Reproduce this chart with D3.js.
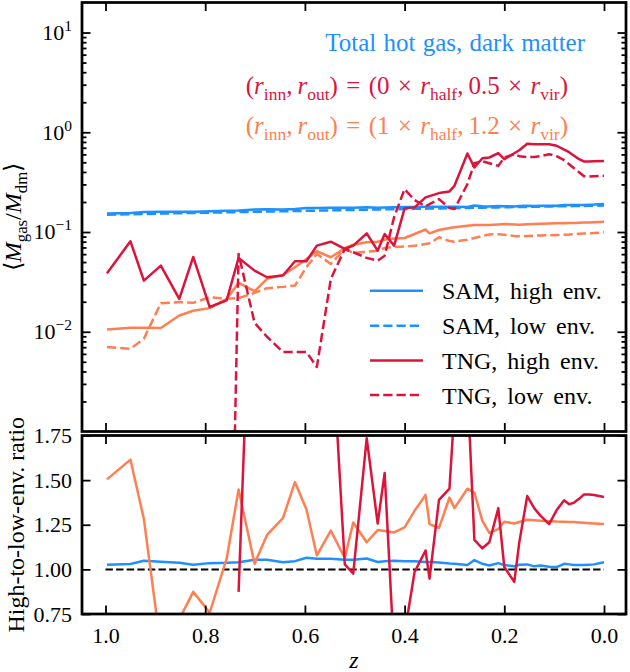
<!DOCTYPE html>
<html><head><meta charset="utf-8">
<script src="https://cdn.jsdelivr.net/npm/d3@7"></script>
<style>
html,body{margin:0;padding:0;background:#fff;}
</style></head>
<body><svg id="c" width="630" height="672"></svg>
<script>
// redshift of each snapshot
const zSnap = [0.997,0.950,0.923,0.889,0.852,0.824,0.791,0.757,0.733,0.701,
  0.676,0.644,0.620,0.597,0.576,0.548,0.520,0.503,0.476,0.454,
  0.440,0.421,0.400,0.380,0.358,0.350,0.331,0.310,0.300,0.274,
  0.260,0.244,0.230,0.212,0.200,0.180,0.170,0.154,0.140,0.127,
  0.110,0.095,0.080,0.070,0.060,0.050,0.040,0.030,0.020,0.000];

const samHigh = [0.1529,0.1553,0.1590,0.1595,0.1599,0.1592,0.1618,0.1633,0.1646,0.1681,
  0.1690,0.1680,0.1698,0.1737,0.1736,0.1747,0.1748,0.1754,0.1775,0.1750,
  0.1762,0.1774,0.1778,0.1786,0.1787,0.1788,0.1791,0.1789,0.1789,0.1786,
  0.1840,0.1809,0.1799,0.1828,0.1812,0.1807,0.1827,0.1836,0.1821,0.1836,
  0.1829,0.1830,0.1868,0.1867,0.1863,0.1867,0.1870,0.1878,0.1884,0.1914];
const samLow = [0.1490,0.1508,0.1517,0.1529,0.1542,0.1552,0.1563,0.1575,0.1583,0.1595,
  0.1603,0.1615,0.1623,0.1631,0.1638,0.1648,0.1658,0.1664,0.1673,0.1681,
  0.1686,0.1693,0.1700,0.1707,0.1715,0.1718,0.1724,0.1732,0.1735,0.1744,
  0.1749,0.1755,0.1760,0.1766,0.1770,0.1777,0.1781,0.1786,0.1791,0.1796,
  0.1802,0.1807,0.1812,0.1816,0.1819,0.1823,0.1826,0.1830,0.1833,0.1840];
// TNG, (0 x r_half, 0.5 x r_vir)
const tngHigh = [0.0386,0.0807,0.0326,0.0460,0.0214,0.0562,0.0177,0.0206,0.0550,0.0410,
  0.0352,0.0366,0.0509,0.0509,0.0730,0.0800,0.0676,0.0730,0.0970,0.0650,
  0.0955,0.0730,0.1726,0.1766,0.2223,0.2291,0.2455,0.2553,0.2904,0.6124,
  0.4436,0.5495,0.5585,0.6166,0.5370,0.6166,0.6607,0.7674,0.7586,0.7586,
  0.7586,0.7328,0.6683,0.6310,0.5821,0.5370,0.5093,0.5093,0.5129,0.5164];
const tngLow = [0,0,0,0,0,0,0,0,0.0603,0.0123,
  0.00891,0.00627,0.00627,0.00627,0.00444,0.0339,0.0676,0.0627,0.0550,0.0516,
  0.0579,0.1413,0.2692,0.2089,0.1807,0.1905,0.2138,0.1738,0.1698,0.3020,
  0.4898,0.5129,0.4898,0.4603,0.5585,0.6026,0.5754,0.5623,0.5662,0.5754,
  0.6026,0.5754,0.5248,0.4786,0.4365,0.3981,0.3631,0.3606,0.3631,0.3656];
// TNG, (1 x r_half, 1.2 x r_vir)
const tngOutHigh = [0.01054,0.01096,0.01096,0.01089,0.01455,0.01622,0.01726,0.02138,0.03090,0.02553,
  0.03388,0.03715,0.04436,0.05370,0.06412,0.05585,0.06871,0.07464,0.07889,0.07998,
  0.08414,0.08610,0.08710,0.09550,0.1059,0.09705,0.1047,0.1096,0.1114,0.1156,
  0.1175,0.1175,0.1175,0.1189,0.1202,0.1189,0.1183,0.1197,0.1202,0.1208,
  0.1216,0.1222,0.1225,0.1230,0.1230,0.1236,0.1245,0.1247,0.1253,0.1268];
const tngOutLow = [0.00703,0.00676,0.00851,0.01936,0.01982,0.01950,0.02223,0.02138,0.02173,0.02455,
  0.02735,0.02818,0.02904,0.04436,0.06026,0.04786,0.06761,0.06166,0.06353,0.06501,
  0.06918,0.07079,0.07161,0.07295,0.07586,0.07709,0.08851,0.08128,0.07998,0.08375,
  0.08710,0.09120,0.09441,0.09506,0.09397,0.09120,0.09057,0.09120,0.09183,0.09226,
  0.09290,0.09333,0.09397,0.09441,0.09550,0.09594,0.09661,0.09727,0.09772,0.09931];

// high-to-low ratios
const samRatio = [1.026,1.030,1.048,1.043,1.037,1.026,1.035,1.037,1.040,1.054,
  1.054,1.040,1.046,1.065,1.060,1.060,1.054,1.054,1.061,1.041,
  1.045,1.048,1.046,1.046,1.042,1.041,1.039,1.033,1.031,1.024,
  1.052,1.031,1.022,1.035,1.024,1.017,1.026,1.028,1.017,1.022,
  1.015,1.013,1.031,1.028,1.024,1.024,1.024,1.026,1.028,1.040];
const tngRatio = [null,null,null,null,null,null,null,null,0.874,3.3,
  3.95,5.8,8.1,8.1,16,2.4,1.028,0.976,1.735,1.257,
  1.54,0.52,0.64,0.985,1.106,0.948,1.389,1.452,1.9,2.03,
  1.165,1.118,1.152,1.343,1.013,0.93,1.15,1.411,1.343,1.3,
  1.254,1.332,1.387,1.365,1.374,1.395,1.42,1.42,1.417,1.406];
const tngOutRatio = [1.504,1.615,1.282,0.56,0.72,0.874,0.757,1.06,1.448,1.032,
  1.193,1.287,1.489,1.337,1.078,1.217,1.064,1.263,1.152,1.22,
  1.215,1.207,1.235,1.328,1.417,1.254,1.232,1.402,1.343,1.452,
  1.43,1.272,1.204,1.226,1.267,1.257,1.265,1.278,1.275,1.272,
  1.27,1.268,1.267,1.266,1.265,1.263,1.261,1.259,1.257,1.254];

const zTicks = [1.0,0.8,0.6,0.4,0.2,0.0];
const logTicks = [1e-2,1e-1,1e0,1e1];
const ratioTicks = [0.75,1.00,1.25,1.50,1.75];
const legendLabels = ["SAM, high env.","SAM, low env.","TNG, high env.","TNG, low env."];

const BLUE = "#1e90ff", RED = "#dc143c", ORANGE = "#ff7f50";
const FONT = '"Liberation Serif"';

const svg = d3.select("#c");
const L = 82, R = 626;
const T1 = 2.5, B1 = 431.5, T2 = 435.5, B2 = 614;
const x = d3.scaleLinear().domain([1,0]).range([105.5,604]);
const yTop = d3.scaleLog().domain([1e-3,20]).range([B1,T1]);
const yBot = d3.scaleLinear().domain([0.75,1.75]).range([B2,T2]);

const defs = svg.append("defs");
defs.append("clipPath").attr("id","clipTop").append("rect").attr("x",L).attr("y",T1).attr("width",R-L).attr("height",B1-T1);
defs.append("clipPath").attr("id","clipBot").append("rect").attr("x",L).attr("y",T2).attr("width",R-L).attr("height",B2-T2);

const idx = d3.range(zSnap.length);
function drawLine(g, arr, yS, color, dashed, isLog){
  const line = d3.line()
    .defined(i => arr[i] !== null)
    .x(i => x(zSnap[i]))
    .y(i => yS(isLog ? Math.max(arr[i], 1e-7) : arr[i]));
  g.append("path").attr("d", line(idx)).attr("fill","none")
    .attr("stroke",color).attr("stroke-width",2.5)
    .attr("stroke-linejoin","round")
    .attr("stroke-dasharray", dashed ? "9.25,4" : null);
}

// top panel
const gTop = svg.append("g").attr("clip-path","url(#clipTop)");
drawLine(gTop, samHigh, yTop, BLUE, false, true);
drawLine(gTop, samLow, yTop, BLUE, true, true);
drawLine(gTop, tngOutHigh, yTop, ORANGE, false, true);
drawLine(gTop, tngOutLow, yTop, ORANGE, true, true);
drawLine(gTop, tngHigh, yTop, RED, false, true);
drawLine(gTop, tngLow, yTop, RED, true, true);

// bottom panel
const gBot = svg.append("g").attr("clip-path","url(#clipBot)");
gBot.append("path").attr("d", d3.line()([[x(1),yBot(1)],[x(0),yBot(1)]]))
  .attr("stroke","#000").attr("stroke-width",2).attr("stroke-dasharray","7.4,3.2");
drawLine(gBot, samRatio, yBot, BLUE, false, false);
drawLine(gBot, tngOutRatio, yBot, ORANGE, false, false);
drawLine(gBot, tngRatio, yBot, RED, false, false);

// axes
const TS = 22;
function styleAxis(g){
  g.select(".domain").remove();
  g.selectAll(".tick line").attr("stroke","#000").attr("stroke-width",1.8);
  g.selectAll(".tick text").attr("font-size",TS).attr("fill","#000").style("font-family",FONT);
  return g;
}
const minorLog = [];
[1e-3,1e-2,1e-1,1].forEach(d => { for(let k=2;k<=9;k++){ const v=d*k; if(v<20) minorLog.push(v);} });

// top panel y
styleAxis(svg.append("g").attr("transform",`translate(${L},0)`)
  .call(d3.axisLeft(yTop).tickValues(logTicks).tickSizeInner(-8.5).tickSizeOuter(0).tickFormat("")));
styleAxis(svg.append("g").attr("transform",`translate(${L},0)`)
  .call(d3.axisLeft(yTop).tickValues(minorLog).tickSizeInner(-4.5).tickSizeOuter(0).tickFormat("")));
styleAxis(svg.append("g").attr("transform",`translate(${R},0)`)
  .call(d3.axisRight(yTop).tickValues(logTicks).tickSizeInner(-8.5).tickSizeOuter(0).tickFormat("")));
styleAxis(svg.append("g").attr("transform",`translate(${R},0)`)
  .call(d3.axisRight(yTop).tickValues(minorLog).tickSizeInner(-4.5).tickSizeOuter(0).tickFormat("")));
// log labels
const expo = {1e-2:"\u22122",1e-1:"\u22121",1:"0",10:"1"};
const lg = svg.append("g");
logTicks.forEach(v => {
  const t = lg.append("text").attr("x",L-10).attr("y",yTop(v)).attr("dy","0.33em")
    .attr("text-anchor","end").attr("font-size",TS).attr("fill","#000").style("font-family",FONT);
  t.append("tspan").text("10");
  t.append("tspan").attr("font-size",15.5).attr("dy",-9).text(expo[v]);
});
// top panel x ticks
styleAxis(svg.append("g").attr("transform",`translate(0,${T1})`)
  .call(d3.axisTop(x).tickValues(zTicks).tickSizeInner(-8.5).tickSizeOuter(0).tickFormat("")));
styleAxis(svg.append("g").attr("transform",`translate(0,${B1})`)
  .call(d3.axisBottom(x).tickValues(zTicks).tickSizeInner(-8.5).tickSizeOuter(0).tickFormat("")));
// bottom panel
styleAxis(svg.append("g").attr("transform",`translate(${L},0)`)
  .call(d3.axisLeft(yBot).tickValues(ratioTicks).tickSizeInner(-8.5).tickSizeOuter(0).tickPadding(10).tickFormat(d3.format(".2f"))));
styleAxis(svg.append("g").attr("transform",`translate(${R},0)`)
  .call(d3.axisRight(yBot).tickValues(ratioTicks).tickSizeInner(-8.5).tickSizeOuter(0).tickFormat("")));
styleAxis(svg.append("g").attr("transform",`translate(0,${T2})`)
  .call(d3.axisTop(x).tickValues(zTicks).tickSizeInner(-8.5).tickSizeOuter(0).tickFormat("")));
styleAxis(svg.append("g").attr("transform",`translate(0,${B2})`)
  .call(d3.axisBottom(x).tickValues(zTicks).tickSizeInner(-8.5).tickSizeOuter(0).tickPadding(13).tickFormat(d3.format(".1f"))));

// frames
[[T1,B1],[T2,B2]].forEach(([t,b]) => {
  svg.append("rect").attr("x",L).attr("y",t).attr("width",R-L).attr("height",b-t)
    .attr("fill","none").attr("stroke","#000").attr("stroke-width",2.75);
});

// math text helper
function mathText(sel, parts, size){
  let off = 0;
  parts.forEach(p => {
    const target = p.sub ? size*0.25 : 0;
    const ts = sel.append("tspan").text(p.t);
    if (target !== off){ ts.attr("dy", target - off); off = target; }
    if (p.sub) ts.attr("font-size", size*0.7);
    if (p.it) ts.attr("font-style","italic");
  });
}

// annotations
svg.append("text").attr("x",585).attr("y",50.5).attr("text-anchor","end")
  .attr("font-size",25).attr("fill",BLUE).attr("word-spacing",1).style("font-family",FONT)
  .text("Total hot gas, dark matter");
function radiusText(y, color, a, b){
  const t = svg.append("text").attr("x",568).attr("y",y).attr("text-anchor","end")
    .attr("font-size",25).attr("fill",color).style("font-family",FONT);
  mathText(t, [
    {t:"("},{t:"r",it:1},{t:"inn",sub:1},{t:",\u2009"},{t:"r",it:1},{t:"out",sub:1},
    {t:")\u2004=\u2004("+a+"\u2004\u00d7\u2004"},{t:"r",it:1},{t:"half",sub:1},{t:",\u2009"+b+"\u2004\u00d7\u2004"},
    {t:"r",it:1},{t:"vir",sub:1},{t:")"}
  ], 25);
}
radiusText(94, RED, "0", "0.5");
radiusText(134, ORANGE, "1", "1.2");

// legend
const legY = [290.7, 325.7, 360.5, 395];
const legStyle = [[BLUE,false],[BLUE,true],[RED,false],[RED,true]];
legendLabels.forEach((lab,i) => {
  svg.append("line").attr("x1",370).attr("x2",423).attr("y1",legY[i]).attr("y2",legY[i])
    .attr("stroke",legStyle[i][0]).attr("stroke-width",2.5)
    .attr("stroke-dasharray", legStyle[i][1] ? "9.25,4" : null);
  svg.append("text").attr("x",442).attr("y",legY[i]).attr("dy","0.36em")
    .attr("font-size",24).attr("fill","#000").attr("word-spacing",4).style("font-family",FONT).text(lab);
});

// axis labels
const yl = svg.append("text").attr("transform",`translate(21,${(T1+B1)/2}) rotate(-90)`)
  .attr("text-anchor","middle").attr("font-size",24).attr("fill","#000").style("font-family",FONT);
mathText(yl, [{t:"\u27e8"},{t:"M",it:1},{t:"gas",sub:1},{t:"/"},{t:"M",it:1},{t:"dm",sub:1},{t:"\u27e9"}], 24);
svg.append("text").attr("transform",`translate(24,${(T2+B2)/2}) rotate(-90)`)
  .attr("text-anchor","middle").attr("font-size",24).attr("fill","#000").style("font-family",FONT)
  .text("High-to-low-env. ratio");
svg.append("text").attr("x",(L+R)/2).attr("y",668).attr("text-anchor","middle")
  .attr("font-size",24).attr("font-style","italic").attr("fill","#000").style("font-family",FONT).text("z");
</script></body></html>
